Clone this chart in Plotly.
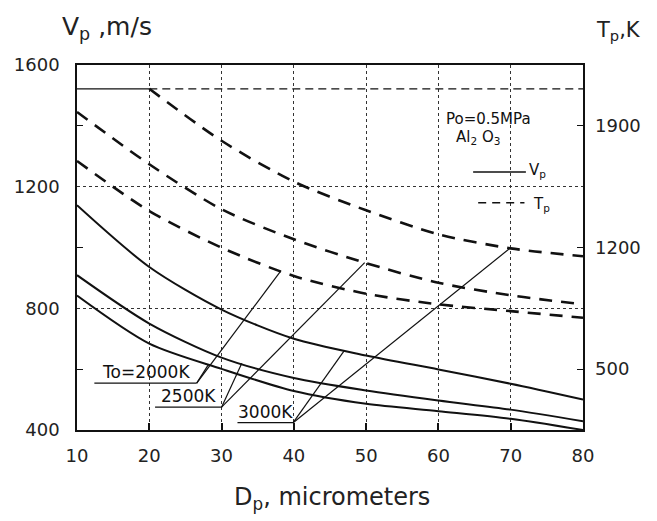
import numpy as np
import plotly.graph_objects as go

# ---------------- data ----------------
D = [10, 20, 30, 40, 50, 60, 70, 80]                 # particle diameter, micrometers
vp_2000 = [842, 684, 601, 528, 486, 462, 437, 400]    # Vp, m/s  (To=2000K)
vp_2500 = [909, 750, 638, 571, 530, 497, 467, 429]    # Vp, m/s  (To=2500K)
vp_3000 = [1139, 936, 796, 700, 645, 599, 552, 500]   # Vp, m/s  (To=3000K)

tp_2000 = [1698, 1410, 1199, 1036, 934, 873, 834, 796]    # Tp, K (To=2000K)
tp_2500 = [1980, 1679, 1420, 1247, 1110, 997, 925, 873]   # Tp, K (To=2500K)
D_tp3000 = [20, 30, 40, 50, 60, 70, 80]
tp_3000 = [2113, 1814, 1579, 1414, 1276, 1195, 1150]      # Tp, K (To=3000K)
tp_limit = 2113                                           # horizontal limit line, K

x_ticks = [10, 20, 30, 40, 50, 60, 70, 80]
vp_ticks = [400, 800, 1200, 1600]
vp_minor = [600, 1000, 1400]
tp_ticks = [500, 1200, 1900]

VP_RANGE = [400, 1600]
TP_RANGE = [150, 2250]

FONT = "DejaVu Sans"
INK = "#111111"


def tp_to_vp(t):
    return VP_RANGE[0] + (t - TP_RANGE[0]) * (VP_RANGE[1] - VP_RANGE[0]) / (TP_RANGE[1] - TP_RANGE[0])


fig = go.Figure()

solid = dict(color=INK, width=2, shape="spline", smoothing=0.8)
dashed = dict(color=INK, width=2.6, dash="13px,9px", shape="spline", smoothing=0.8)

for v in (vp_2000, vp_2500, vp_3000):
    fig.add_trace(go.Scatter(x=D, y=v, mode="lines", line=solid, yaxis="y", showlegend=False,
                             hoverinfo="skip"))
for xs, t in ((D, tp_2000), (D, tp_2500), (D_tp3000, tp_3000)):
    fig.add_trace(go.Scatter(x=xs, y=t, mode="lines", line=dashed, yaxis="y2", showlegend=False,
                             hoverinfo="skip"))

# limit line: solid from 10 to 20, thin dashed beyond
fig.add_trace(go.Scatter(x=[D[0], D_tp3000[0]], y=[tp_limit, tp_limit], mode="lines",
                         line=dict(color=INK, width=1.2), yaxis="y2", showlegend=False, hoverinfo="skip"))
fig.add_trace(go.Scatter(x=[D_tp3000[0], D[-1]], y=[tp_limit, tp_limit], mode="lines",
                         line=dict(color=INK, width=1.2, dash="8px,5px"), yaxis="y2", showlegend=False,
                         hoverinfo="skip"))

shapes = []
annotations = []

# ---------------- leader lines and labels ----------------
labels = [
    # text, anchor (x, vp), underline start x, solid curve, x on solid, dashed curve, x on dashed
    ("To=2000K", (26.56, 554), 12.4, (D, vp_2000), 28.2, (D, tp_2000), 38.2),
    ("2500K", (30.0, 475), 20.8, (D, vp_2500), 32.8, (D, tp_2500), 49.8),
    ("3000K", (39.9, 424), 32.2, (D, vp_3000), 47.0, (D_tp3000, tp_3000), 69.9),
]
for text, (ax, ay), ux, (sx, sy), xs, (dx, dy), xd in labels:
    ys = float(np.interp(xs, sx, sy))
    yd = tp_to_vp(float(np.interp(xd, dx, dy)))
    line = dict(color=INK, width=1.2)
    shapes.append(dict(type="line", xref="x", yref="y", x0=ux, y0=ay, x1=ax, y1=ay, line=line))
    shapes.append(dict(type="line", xref="x", yref="y", x0=ax, y0=ay, x1=xs, y1=ys, line=line))
    shapes.append(dict(type="line", xref="x", yref="y", x0=ax, y0=ay, x1=xd, y1=yd, line=line))
    annotations.append(dict(x=(ux + ax) / 2, y=ay, xref="x", yref="y", text=text, showarrow=False,
                            xanchor="center", yanchor="bottom", yshift=-1,
                            font=dict(family=FONT, size=17, color=INK)))

# ---------------- in-plot legend ----------------
LEG = 15
annotations.append(dict(x=66.95, y=1422, xref="x", yref="y", text="Po=0.5MPa", showarrow=False,
                        xanchor="center", yanchor="middle", font=dict(family=FONT, size=LEG, color=INK)))
annotations.append(dict(x=62.2, y=1363, xref="x", yref="y", text="Al<sub>2</sub> O<sub>3</sub>",
                        showarrow=False, xanchor="left", yanchor="middle",
                        font=dict(family=FONT, size=LEG, color=INK)))
shapes.append(dict(type="line", xref="x", yref="y", x0=64.8, x1=72.1, y0=1248, y1=1248,
                   line=dict(color=INK, width=1.6)))
annotations.append(dict(x=72.2, y=1254, xref="x", yref="y", text="V<sub>p</sub>", showarrow=False,
                        xanchor="left", yanchor="middle", font=dict(family=FONT, size=LEG, color=INK)))
shapes.append(dict(type="line", xref="x", yref="y", x0=65.5, x1=71.9, y0=1147, y1=1147,
                   line=dict(color=INK, width=1.6, dash="8px,6px")))
annotations.append(dict(x=72.8, y=1143, xref="x", yref="y", text="T<sub>p</sub>", showarrow=False,
                        xanchor="left", yanchor="middle", font=dict(family=FONT, size=LEG, color=INK)))

# ---------------- axis titles ----------------
annotations.append(dict(x=-0.034, y=1.10, xref="paper", yref="paper", text="V<sub>p</sub> ,m/s",
                        showarrow=False, xanchor="left", yanchor="middle",
                        font=dict(family=FONT, size=25, color="#222")))
annotations.append(dict(x=1.021, y=1.093, xref="paper", yref="paper", text="T<sub>p</sub>,K",
                        showarrow=False, xanchor="left", yanchor="middle",
                        font=dict(family=FONT, size=21, color="#222")))
annotations.append(dict(x=0.503, y=-0.187, xref="paper", yref="paper", text="D<sub>p</sub>, micrometers",
                        showarrow=False, xanchor="center", yanchor="middle",
                        font=dict(family=FONT, size=24, color="#222")))

fig.update_layout(
    width=657, height=521,
    margin=dict(l=77, r=74, t=65, b=91),
    paper_bgcolor="white", plot_bgcolor="white",
    font=dict(family=FONT, size=18, color="#222"),
    showlegend=False,
    shapes=shapes, annotations=annotations,
    xaxis=dict(range=[10, 80], tickvals=x_ticks, ticks="inside", ticklen=7, tickwidth=1.5,
               tickcolor=INK, showline=True, linecolor=INK, linewidth=1.5, mirror=True,
               showgrid=True, gridcolor="#333", griddash="dot", gridwidth=1, zeroline=False,
               ticklabelstandoff=9),
    yaxis=dict(range=VP_RANGE, tickvals=vp_ticks, ticks="", showline=True, linecolor=INK,
               linewidth=1.5, mirror=True, showgrid=True, gridcolor="#333", griddash="dot",
               gridwidth=1, zeroline=False, ticklabelstandoff=12,
               minor=dict(tickvals=vp_minor, ticks="inside", ticklen=6, tickwidth=1.2,
                          tickcolor=INK, showgrid=False)),
    yaxis2=dict(range=TP_RANGE, tickvals=tp_ticks, overlaying="y", side="right", ticks="inside",
                ticklen=6, tickwidth=1.2, tickcolor=INK, showgrid=False, zeroline=False,
                showline=False, ticklabelstandoff=11),
)

fig.write_html("out.html")
